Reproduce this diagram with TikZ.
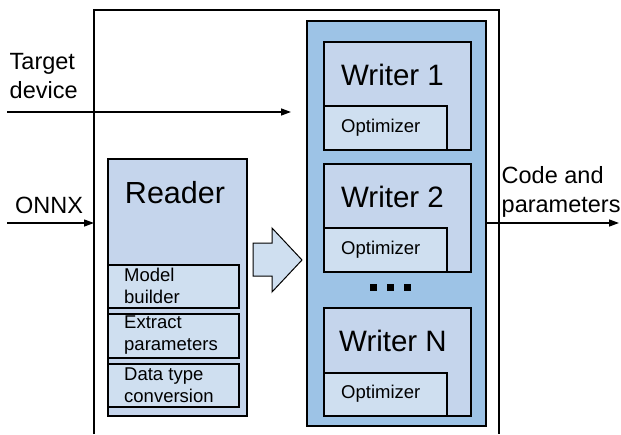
\documentclass[tikz,border=0pt]{standalone}
\usepackage{fontspec}
\setmainfont{Liberation Sans}
\usetikzlibrary{arrows.meta,positioning}

\definecolor{panelblue}{HTML}{9DC3E6}
\definecolor{boxblue}{HTML}{C5D5EC}
\definecolor{subblue}{HTML}{CFDFF0}

\tikzset{
  x=1pt, y=-1pt,
  frame/.style={line width=1.2pt, draw=black},
  box/.style={frame, fill=boxblue},
  subbox/.style={frame, fill=subblue},
  bigtext/.style={font=\fontsize{29.5}{34}\selectfont, inner sep=0pt},
  midtext/.style={font=\fontsize{23.5}{28.5}\selectfont, inner sep=0pt, align=left},
  smalltext/.style={font=\fontsize{18.5}{21.5}\selectfont, inner sep=0pt, align=left, anchor=west},
  flow/.style={line width=1.3pt, -{Triangle[length=10pt,width=7pt]}},
  dotmark/.style={fill=black, minimum size=7pt, inner sep=0pt, rectangle}
}

\begin{document}
\begin{tikzpicture}
\useasboundingbox (0,0) rectangle (621,434);

% surrounding frame, open at the bottom
\draw[line width=1.2pt] (94,434) -- (94,10) -- (499,10) -- (499,434);

% reader block
\draw[box] (108,159) rectangle (247,416);
\node[bigtext, font=\fontsize{30.5}{35}\selectfont] (reader) at (175,193) {Reader};
\draw[subbox] (108,265) rectangle (239,308);
\node[smalltext] (model) at (124,286) {Model\\builder};
\draw[subbox] (108,314) rectangle (239,358);
\node[smalltext] (extract) at (124,335) {Extract\\parameters};
\draw[subbox] (108,364) rectangle (239,407);
\node[smalltext] (dtype) at (124,385) {Data type\\conversion};

% block arrow from reader to writers
\draw[frame, line width=1pt, fill=subblue]
  (253,243) -- (272,243) -- (272,228) -- (302,260) -- (272,292) -- (272,276) -- (253,276) -- cycle;

% writer panel
\draw[frame, fill=panelblue] (307,21) rectangle (486,426);
\coordinate (panelout) at (486,223);

% writer 1
\draw[box] (324,42) rectangle (471,150);
\node[bigtext] (w1) at (392.5,75) {Writer 1};
\draw[subbox] (324,106) rectangle (447,150);
\node[smalltext] (o1) at (341,128) {Optimizer};

% writer 2
\draw[box] (324,164) rectangle (471,272);
\node[bigtext] (w2) at (392.5,197) {Writer 2};
\draw[subbox] (324,228) rectangle (447,272);
\node[smalltext] (o2) at (341,250) {Optimizer};

% ellipsis
\node[dotmark] (d1) at (373.5,287) {};
\node[dotmark] (d2) at (390,287) {};
\node[dotmark] (d3) at (407.5,287) {};

% writer N
\draw[box] (324,308) rectangle (471,416);
\node[bigtext] (wn) at (393,341) {Writer N};
\draw[subbox] (324,373) rectangle (447,416);
\node[smalltext] (on) at (341,394) {Optimizer};

% inputs and output
\node[midtext, anchor=west] (target) at (9.5,76) {Target\\device};
\node[midtext] (onnx) at (49,205) {ONNX};
\node[midtext, anchor=west] (code) at (501.5,192) {Code and\\parameters};

\coordinate (tin) at (7,112);
\coordinate (tout) at (291,112);
\coordinate (oin) at (7,223);
\coordinate (oout) at (94,223);
\coordinate (cout) at (619,223);

\draw[flow] (tin) -- (tout);
\draw[flow] (oin) -- (oout);
\draw[flow] (panelout) -- (cout);
\end{tikzpicture}
\end{document}
